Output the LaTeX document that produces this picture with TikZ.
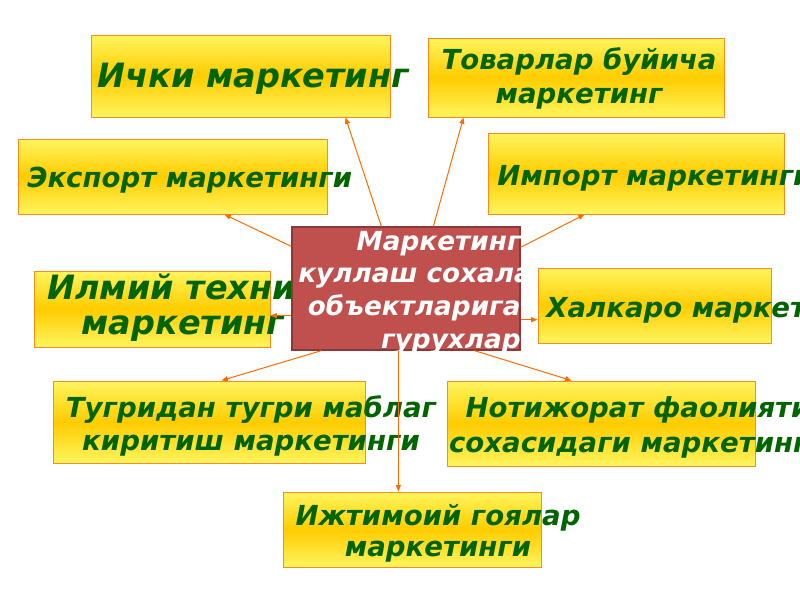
\documentclass[tikz,border=0pt]{standalone}
\usepackage{fontspec}
\setmainfont{DejaVu Sans}
\usetikzlibrary{arrows.meta,calc,fit}
\definecolor{boxlight}{HTML}{FFF55E}
\definecolor{boxgold}{HTML}{FFCC00}
\definecolor{boxline}{HTML}{FF8C1A}
\definecolor{leafgreen}{HTML}{006400}
\definecolor{grpfill}{HTML}{C0504D}
\definecolor{grpline}{HTML}{8C3836}
\definecolor{linkorange}{HTML}{FF6A00}
\tikzset{
  box/.style={draw=boxline, line width=0.7pt, top color=boxlight, bottom color=boxlight, middle color=boxgold, inner sep=0pt},
  lbl/.style={text=leafgreen, font=\bfseries\itshape\fontsize{19.6}{#1}\selectfont, inner sep=0pt, align=center},
  lbl/.default=23.4pt,
  biglbl/.style={text=leafgreen, font=\bfseries\itshape\fontsize{23.8}{#1}\selectfont, inner sep=0pt, align=center},
  biglbl/.default=24.8pt,
  grpbox/.style={draw=grpline, line width=0.9pt, fill=grpfill, inner sep=0pt},
  grplbl/.style={text=white, font=\bfseries\itshape\fontsize{18.7}{23.2}\selectfont, inner sep=0pt, align=right},
  link/.style={draw=linkorange, line width=0.7pt, -{Triangle[length=4.5pt,width=3.5pt]}}
}

\begin{document}
\begin{tikzpicture}[x=0.025cm,y=-0.025cm]
			%%%%% frame %%%%%
			\useasboundingbox (0,0) rectangle (800,600);
			\fill[white] (0,0) rectangle (800,600);
			
			%%%%% yellow boxes %%%%%
			\node[box, fit={(91,35) (390,117)}] (ichki) {};
			\node[box, fit={(428,38) (724,117)}] (tovar) {};
			\node[box, fit={(18,139) (327,214)}] (eksport) {};
			\node[box, fit={(488,133) (784,214)}] (import) {};
			\node[box, fit={(34,271) (270,347)}] (ilmiy) {};
			\node[box, fit={(538,268) (771,343)}] (xalqaro) {};
			\node[box, fit={(53,381) (365,463)}] (tugri) {};
			\node[box, fit={(447,381) (755,466)}] (notijorat) {};
			\node[box, fit={(283,492) (541,567)}] (ijtimoiy) {};
			
			%%%%% texts (base = last line) %%%%%
			\node[biglbl, anchor=base west] (ichkiT) at (97,87) {Ички маркетинг};
			\node[lbl=24.1pt, anchor=base] (tovarT) at (579,103) {Товарлар буйича\\маркетинг};
			\node[lbl, anchor=base west] (eksportT) at (27,187) {Экспорт маркетинги};
			\node[lbl, anchor=base west] (importT) at (497,185) {Импорт маркетинги};
			\node[biglbl, anchor=base] (ilmiyT) at (183,334) {Илмий техник\\маркетинг};
			\node[lbl, anchor=base west] (xalqaroT) at (546,317) {Халкаро маркетинг};
			\node[lbl, anchor=base] (tugriT) at (251,450) {Тугридан тугри маблаг\\киритиш маркетинги};
			\node[lbl=24.8pt, anchor=base] (notijoratT) at (638,452) {Нотижорат фаолияти\\сохасидаги маркетинги};
			\node[lbl=22pt, anchor=base] (ijtimoiyT) at (438,556) {Ижтимоий гоялар\\маркетинги};
			
			%%%%% centre %%%%%
			\node[grpbox, fit={(292,227) (520,350)}] (grp) {};
			\begin{scope}
				\clip (grp.south west) rectangle (grp.north east);
				\node[grplbl, anchor=base east] (grpT) at (521,348) {Маркетинг\\\mbox{куллаш сохала\kern-8pt}\\объектларига\\гурухлар};
			\end{scope}
			
			%%%%% links %%%%%
			\draw[link] ($(grp.north west)+(90,0)$) -- ($(ichki.south west)+(255,0)$);
			\draw[link] ($(grp.north west)+(142,0)$) -- ($(tovar.south west)+(36,0)$);
			\draw[link] ($(grp.north west)+(0,20)$) -- ($(eksport.south west)+(207,0)$);
			\draw[link] ($(grp.north east)+(0,21)$) -- ($(import.south west)+(97,0)$);
			\coordinate (ilmiyS) at ($(grp.south west)+(0,-35)$);
			\draw[link] (ilmiyS) -- (ilmiyS -| ilmiy.east);
			\coordinate (xalqaroS) at ($(grp.south east)+(0,-31)$);
			\draw[link] (xalqaroS) -- (xalqaroS -| xalqaro.west);
			\draw[link] ($(grp.south west)+(30,0)$) -- ($(tugri.north west)+(169,0)$);
			\draw[link] ($(grp.south west)+(183,0)$) -- ($(notijorat.north west)+(125,0)$);
			\coordinate (ijtimoiyS) at ($(grp.south west)+(107,0)$);
			\draw[link] (ijtimoiyS) -- (ijtimoiyS |- ijtimoiy.north);
			
		\end{tikzpicture}
\end{document}
